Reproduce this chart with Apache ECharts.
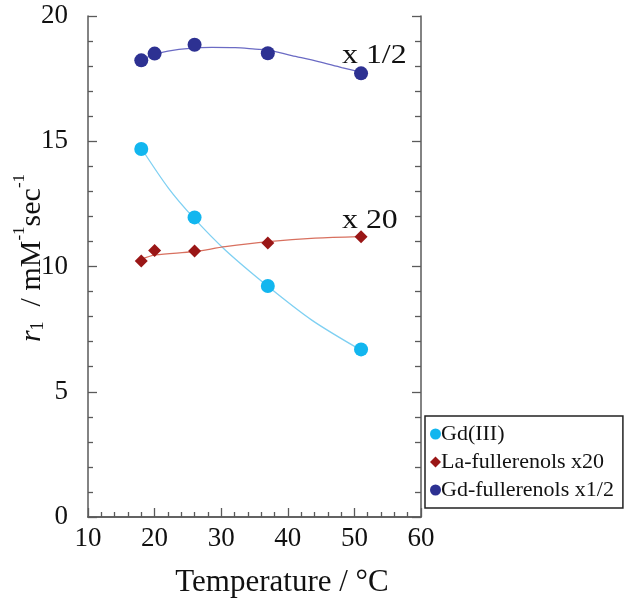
<!DOCTYPE html>
<html>
<head>
<meta charset="utf-8">
<script src="https://cdn.jsdelivr.net/npm/echarts@6/dist/echarts.min.js"></script>
<style>
  html, body { margin: 0; padding: 0; background: #fff; }
  #chart { width: 628px; height: 599px; }
</style>
</head>
<body>
<div id="chart"></div>
<script>
// measured points (temperature in °C)
const gdTemp = [18, 26, 37, 51]
const gdValue = [14.69, 11.96, 9.22, 6.69]
const laTemp = [18, 20, 26, 37, 51]
const laValue = [10.22, 10.64, 10.62, 10.94, 11.19]
const gdfTemp = [18, 20, 26, 37, 51]
const gdfValue = [18.23, 18.5, 18.85, 18.51, 17.71]

// fitted curves
const gdCurveT = [18.1, 22.1, 25.8, 30.6, 37.1, 43.6, 50.8]
const gdCurveV = [14.68, 13.12, 11.96, 10.66, 9.19, 7.86, 6.69]
const laCurveT = [17.8, 20.1, 25.8, 30.6, 37.1, 44.1, 50.8]
const laCurveV = [10.26, 10.46, 10.59, 10.79, 10.99, 11.13, 11.19]
const gdfCurveT = [18, 22.0, 28.6, 32.1, 35.1, 37, 40.6, 44.6, 48.1, 51.1]
const gdfCurveV = [18.27, 18.6, 18.75, 18.74, 18.68, 18.64, 18.42, 18.18, 17.94, 17.75]

const xTicks = [10, 20, 30, 40, 50, 60]
const yTicks = [0, 5, 10, 15, 20]

const serif = 'Liberation Serif, Times New Roman, serif'

function zip (a, b) {
  return a.map((v, i) => [v, b[i]])
}

const chart = echarts.init(document.getElementById('chart'))

const axisLine = { show: true, lineStyle: { color: '#5a5a5a', width: 1.5 } }
const tickStyle = { color: '#5a5a5a', width: 1.3 }

const option = {
  backgroundColor: '#fff',
  animation: false,
  grid: { left: 88, right: 207, top: 16, bottom: 82 },
  xAxis: [{
    type: 'value',
    min: xTicks[0],
    max: xTicks[xTicks.length - 1],
    interval: 10,
    axisLine: axisLine,
    axisTick: { show: true, inside: true, length: 9, lineStyle: tickStyle },
    minorTick: { show: true, splitNumber: 5, length: 5, lineStyle: tickStyle },
    splitLine: { show: false },
    axisLabel: { color: '#111', fontFamily: serif, fontSize: 27, margin: 8 }
  }, {
    type: 'value',
    position: 'top',
    min: xTicks[0],
    max: xTicks[xTicks.length - 1],
    interval: 10,
    axisLine: axisLine,
    axisTick: { show: false },
    axisLabel: { show: false },
    splitLine: { show: false }
  }],
  yAxis: [{
    type: 'value',
    min: yTicks[0],
    max: yTicks[yTicks.length - 1],
    interval: 5,
    axisLine: axisLine,
    axisTick: { show: true, inside: true, length: 9, lineStyle: tickStyle },
    minorTick: { show: true, splitNumber: 5, length: 5, lineStyle: tickStyle },
    splitLine: { show: false },
    axisLabel: { color: '#111', fontFamily: serif, fontSize: 27, margin: 20 }
  }, {
    type: 'value',
    position: 'right',
    min: yTicks[0],
    max: yTicks[yTicks.length - 1],
    interval: 5,
    axisLine: axisLine,
    axisTick: { show: true, inside: true, length: 9, lineStyle: tickStyle },
    minorTick: { show: true, splitNumber: 5, length: 6, lineStyle: tickStyle },
    splitLine: { show: false },
    axisLabel: { show: false }
  }],
  legend: {
    orient: 'vertical',
    left: 425,
    top: 416,
    data: ['Gd(III)', 'La-fullerenols x20', 'Gd-fullerenols x1/2'],
    itemWidth: 11,
    itemHeight: 11,
    itemGap: 6,
    padding: [7, 9, 7, 5],
    borderColor: '#222',
    borderWidth: 1.5,
    textStyle: { fontFamily: serif, fontSize: 22, color: '#111', padding: [0, 0, 0, -5] }
  },
  series: [
    {
      type: 'line',
      name: 'gd-fit',
      data: zip(gdCurveT, gdCurveV),
      smooth: 0.3,
      showSymbol: false,
      lineStyle: { color: '#7fd0f2', width: 1.3 },
      z: 1
    },
    {
      type: 'line',
      name: 'la-fit',
      data: zip(laCurveT, laCurveV),
      smooth: 0.3,
      showSymbol: false,
      lineStyle: { color: '#d8705f', width: 1.3 },
      z: 1
    },
    {
      type: 'line',
      name: 'gdf-fit',
      data: zip(gdfCurveT, gdfCurveV),
      smooth: 0.3,
      showSymbol: false,
      lineStyle: { color: '#6b6bc4', width: 1.3 },
      z: 1
    },
    {
      type: 'scatter',
      name: 'Gd(III)',
      data: zip(gdTemp, gdValue),
      symbol: 'circle',
      symbolSize: 14,
      itemStyle: { color: '#12b6ef', opacity: 1 },
      z: 3
    },
    {
      type: 'scatter',
      name: 'La-fullerenols x20',
      data: zip(laTemp, laValue),
      symbol: 'diamond',
      symbolSize: 13,
      itemStyle: { color: '#9a1616', opacity: 1 },
      z: 3
    },
    {
      type: 'scatter',
      name: 'Gd-fullerenols x1/2',
      data: zip(gdfTemp, gdfValue),
      symbol: 'circle',
      symbolSize: 14,
      itemStyle: { color: '#2d3192', opacity: 1 },
      z: 3
    }
  ],
  graphic: [
    {
      type: 'text',
      x: 342,
      y: 56,
      scaleX: 1.18,
      style: { text: 'x 1/2', font: '27px ' + serif, fill: '#111', verticalAlign: 'middle' },
      z: 10
    },
    {
      type: 'text',
      x: 342,
      y: 221,
      scaleX: 1.18,
      style: { text: 'x 20', font: '27px ' + serif, fill: '#111', verticalAlign: 'middle' },
      z: 10
    },
    {
      type: 'text',
      x: 282,
      y: 583,
      style: { text: 'Temperature / °C', font: '31px ' + serif, fill: '#111', align: 'center', verticalAlign: 'middle' }
    },
    {
      // y axis title: r1 / mM-1sec-1, rotated
      type: 'text',
      x: 29,
      y: 258,
      rotation: Math.PI / 2,
      style: {
        text: '{r|r}{sub|1}{n|  / mM}{sup|-1}{n|sec}{sup|-1}',
        align: 'center',
        verticalAlign: 'middle',
        fill: '#111',
        rich: {
          r: { fontFamily: serif, fontSize: 30, fontStyle: 'italic', lineHeight: 36, verticalAlign: 'bottom' },
          sub: { fontFamily: serif, fontSize: 18, lineHeight: 18, verticalAlign: 'bottom' },
          n: { fontFamily: serif, fontSize: 30, lineHeight: 36, verticalAlign: 'bottom' },
          sup: { fontFamily: serif, fontSize: 17, lineHeight: 17, verticalAlign: 'top' }
        }
      }
    }
  ]
}

chart.setOption(option)
</script>
</body>
</html>
